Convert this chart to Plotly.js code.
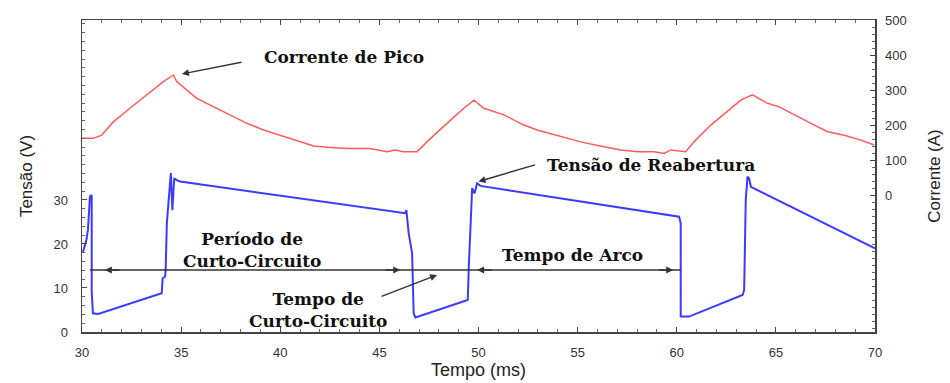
<!DOCTYPE html>
<html>
<head>
<meta charset="utf-8">
<script src="https://cdn.plot.ly/plotly-3.0.1.min.js"></script>
<style>html,body{margin:0;padding:0;background:#fff;}#chart{width:950px;height:383px;}</style>
</head>
<body>
<div id="chart"></div>
<script>
// Voltage (blue), time in ms, V
const voltTime = [30.05,30.22,30.3,30.4,30.49,30.49,30.55,30.82,34.02,34.07,34.19,34.22,34.28,34.44,34.48,34.56,34.65,34.78,34.95,46.31,46.36,46.48,46.65,46.73,46.82,49.34,49.46,49.51,49.6,49.68,49.8,49.93,50.1,60.03,60.12,60.2,60.2,60.62,63.32,63.4,63.43,63.48,63.57,63.65,63.74,70.0];
const voltValue = [18.2,20.9,23.2,30.8,31.1,9.2,4.25,4.1,8.8,12.2,12.6,14.1,24.7,33,36.1,27.7,34.9,34.5,34.2,27.0,27.7,22.4,17.9,4.25,3.3,7.1,7.3,14.8,25.5,32.7,31.5,33.8,33.2,26.4,26.2,24.7,3.5,3.5,8.4,9.5,17.1,30,35.3,34.9,33,19.0];

// Current (red), time in ms, A
const currTime = [30.0,30.57,30.99,31.58,32.42,33.27,34.1,34.61,34.78,35.79,36.63,37.47,38.32,39.16,40.0,40.84,41.68,42.53,43.37,44.55,45.39,45.8,46.23,46.9,47.49,48.59,49.26,49.77,50.27,51.28,52.29,52.96,54.14,55.15,56.33,57.17,58.01,58.85,59.36,59.7,60.45,60.87,61.72,62.56,63.23,63.82,64.58,65.17,65.93,66.77,67.61,68.45,69.29,69.96];
const currValue = [162,162,171,209,248,286,324,343,324,276,252,229,205,186,171,157,140,136,133,133,124,129,124,124,157,214,248,271,248,229,200,186,167,152,138,129,124,124,119,129,124,152,200,238,271,286,262,252,229,205,181,171,157,143];

const xTicks = [30,35,40,45,50,55,60,65,70];
const voltTicks = [0,10,20,30];
const currTicks = [0,100,200,300,400,500];

const annFont = {family:'DejaVu Serif', size:17, color:'#111'};

const traces = [
  {x: voltTime, y: voltValue, type:'scatter', mode:'lines', line:{color:'#3b3bff', width:2}, yaxis:'y', hoverinfo:'skip'},
  {x: currTime, y: currValue, type:'scatter', mode:'lines', line:{color:'#ff5a5a', width:1.5}, yaxis:'y2', hoverinfo:'skip'}
];

function arrow(x, y, ax, ay, yref) {
  return {x:x, y:y, xref:'x', yref:yref||'y', ax:ax, ay:ay, axref:'pixel', ayref:'pixel', text:'', showarrow:true,
          arrowhead:2, arrowsize:1, arrowwidth:1.4, arrowcolor:'#333'};
}

const annotations = [
  {x:39.08, y:394, xref:'x', yref:'y2', text:'<b>Corrente de Pico</b>', showarrow:false, xanchor:'left', yanchor:'middle', font:annFont},
  arrow(35.04, 346, 61, -12, 'y2'),
  {x:58.72, y:38.0, xref:'x', yref:'y', text:'<b>Tensão de Reabertura</b>', showarrow:false, xanchor:'center', yanchor:'middle', font:annFont},
  arrow(50.0, 34.2, 58, -17),
  {x:38.57, y:18.6, xref:'x', yref:'y', text:'<b>Período de<br>Curto-Circuito</b>', showarrow:false, xanchor:'center', yanchor:'middle', font:annFont},
  {x:54.74, y:17.5, xref:'x', yref:'y', text:'<b>Tempo de Arco</b>', showarrow:false, xanchor:'center', yanchor:'middle', font:annFont},
  {x:41.91, y:4.9, xref:'x', yref:'y', text:'<b>Tempo de<br>Curto-Circuito</b>', showarrow:false, xanchor:'center', yanchor:'middle', font:annFont},
  arrow(47.91, 12.95, -57, 22),
  arrow(31.15, 14.1, 16, 0),
  arrow(46.05, 14.1, -16, 0),
  arrow(49.93, 14.1, 16, 0),
  arrow(59.82, 14.1, -16, 0)
];

const shapes = [
  {type:'line', xref:'x', yref:'y', x0:30.4, x1:60.2, y0:14.1, y1:14.1, line:{color:'#333', width:1.4}}
];

const tickFont = {family:'Liberation Sans', size:13, color:'#333'};
const titleFont = {family:'Liberation Sans', size:17, color:'#222'};

const layout = {
  width:950, height:383,
  margin:{l:82, r:75, t:20, b:51},
  paper_bgcolor:'#fff', plot_bgcolor:'#fff',
  showlegend:false,
  xaxis:{range:[30,70], tickvals:xTicks, ticktext:xTicks.map(String), ticks:'inside', ticklen:5, tickcolor:'#444',
         minor:{dtick:1, ticks:'inside', ticklen:3, tickcolor:'#666'}, ticklabelstandoff:8,
         showline:true, linecolor:'#444', linewidth:1.5, mirror:'ticks', showgrid:false, zeroline:false,
         tickfont:tickFont, title:{text:'Tempo (ms)', font:{family:'Liberation Sans', size:18, color:'#222'}, standoff:2}},
  yaxis:{range:[0,70.9], tickvals:voltTicks, ticks:'inside', ticklen:5, tickcolor:'#444',
         minor:{dtick:2, ticks:'inside', ticklen:3, tickcolor:'#666'}, ticklabelstandoff:10,
         showline:true, linecolor:'#444', linewidth:1.5, showgrid:false, zeroline:false,
         tickfont:tickFont, title:{text:'Tensão (V)', font:titleFont, standoff:16}},
  yaxis2:{range:[-391,500], overlaying:'y', side:'right', tickvals:currTicks, ticks:'inside', ticklen:5, tickcolor:'#444',
         minor:{dtick:20, ticks:'inside', ticklen:3, tickcolor:'#666'}, ticklabelstandoff:6,
         showline:true, linecolor:'#444', linewidth:1.5, showgrid:false, zeroline:false,
         tickfont:tickFont, title:{text:'Corrente (A)', font:titleFont, standoff:22}},
  annotations:annotations,
  shapes:shapes
};

Plotly.newPlot('chart', traces, layout, {displayModeBar:false, staticPlot:true});
</script>
</body>
</html>
